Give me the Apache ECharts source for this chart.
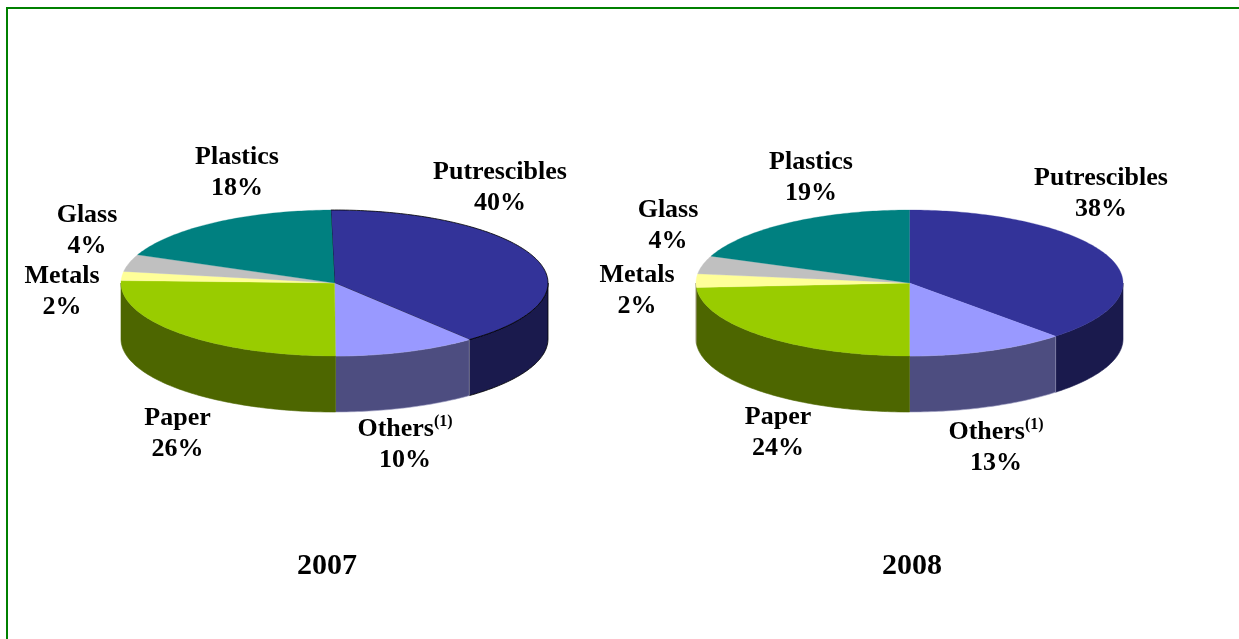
<!DOCTYPE html>
<html>
<head>
<meta charset="utf-8">
<style>html,body{margin:0;padding:0;background:#fff}#c{width:1239px;height:639px}</style>
<script src="https://cdn.jsdelivr.net/npm/echarts@6/dist/echarts.min.js"></script>
</head>
<body>
<div id="c"></div>
<script>
// Printed labels, and slice shares measured from the drawn angles of the picture
// (the printed figures are rounded, so a few slices differ slightly from them).
const categories = ['Putrescibles', 'Others', 'Paper', 'Metals', 'Glass', 'Plastics'];
const years = ['2007', '2008'];
const printed2007 = [40, 10, 26, 2, 4, 18];
const printed2008 = [38, 13, 24, 2, 4, 19];
const shares2007 = [39.4, 10.8, 25.6, 2.0, 3.8, 18.4];
const shares2008 = [38.0, 12.0, 24.0, 3.0, 4.0, 19.0];

const topColors = ['#333399', '#9999ff', '#99cc00', '#ffff99', '#c0c0c0', '#008080'];
const wallColors = ['#1a1a4d', '#4d4d80', '#4d6600', '#80804d', '#606060', '#004040'];

const FONT = '"Liberation Serif", "Times New Roman", serif';

const chart = echarts.init(document.getElementById('c'), null, { renderer: 'canvas' });

function pt(g, deg, dy) {
  const a = deg * Math.PI / 180;
  return [g.cx + g.rx * Math.sin(a), g.cy - g.ry * Math.cos(a) + (dy || 0)];
}
function arc(g, a, b, dy) {
  const out = [], n = Math.max(2, Math.ceil(Math.abs(b - a)));
  for (let i = 0; i <= n; i++) out.push(pt(g, a + (b - a) * i / n, dy));
  return out;
}

function labelRich(name, printed) {
  const sup = name === 'Others' ? '{s|(1)}' : '';
  return '{b|' + name + '}' + sup + '\n{b|' + printed + '%}';
}

function pieSeries(shares, printed, g, labelPos, outlined) {
  const total = shares.reduce((s, v) => s + v, 0);
  return {
    type: 'custom',
    coordinateSystem: 'none',
    silent: true,
    animation: false,
    data: shares.map((v, i) => ({ name: categories[i], value: [v, printed[i]] })),
    renderItem(params, api) {
      const i = params.dataIndex;
      let start = g.start;
      for (let k = 0; k < i; k++) start += shares[k] / total * 360;
      const end = start + api.value(0) / total * 360;
      const children = [];
      const w0 = Math.max(start, 90), w1 = Math.min(end, 270);
      const strokeOn = outlined && i === 0;
      if (w1 > w0) {
        const pts = arc(g, w0, w1, 0).concat(arc(g, w1, w0, g.depth));
        children.push({
          type: 'polygon', z2: 1, shape: { points: pts },
          style: {
            fill: wallColors[i],
            stroke: strokeOn ? '#000' : (i === 1 ? '#9a9ac0' : wallColors[i]),
            lineWidth: strokeOn ? 0.8 : 0.6
          }
        });
      }
      const top = [[g.cx, g.cy]].concat(arc(g, start, end, 0));
      children.push({
        type: 'polygon', z2: 2, shape: { points: top },
        style: {
          fill: topColors[i],
          stroke: strokeOn ? '#000' : topColors[i],
          lineWidth: strokeOn ? 0.8 : 0.3
        }
      });
      children.push({
        type: 'text', z2: 3,
        style: {
          x: labelPos[i][0], y: labelPos[i][1],
          text: labelRich(categories[i], api.value(1)),
          align: 'center', verticalAlign: 'middle',
          rich: {
            b: { font: 'bold 26px ' + FONT, fill: '#000', lineHeight: 31 },
            s: { font: 'bold 16px ' + FONT, fill: '#000', lineHeight: 31, verticalAlign: 'top', padding: [0, 0, 6, 0] }
          }
        }
      });
      return { type: 'group', children };
    }
  };
}

const geo2007 = { cx: 334.5, cy: 283, rx: 213.5, ry: 73, depth: 56, start: -1 };
const geo2008 = { cx: 909.5, cy: 283, rx: 213.5, ry: 73, depth: 56, start: 0 };
const labelPos2007 = [[500, 187.5], [405, 445], [177.5, 434], [62, 292], [87, 231], [237, 172.5]];
const labelPos2008 = [[1101, 194], [996, 448], [778, 433], [637, 291], [668, 226], [811, 178]];

chart.setOption({
  backgroundColor: '#ffffff',
  animation: false,
  title: [
    { text: years[0], left: 322, top: 561, textAlign: 'center', textVerticalAlign: 'middle',
      textStyle: { fontFamily: FONT, fontWeight: 'bold', fontSize: 30, color: '#000' } },
    { text: years[1], left: 907, top: 561, textAlign: 'center', textVerticalAlign: 'middle',
      textStyle: { fontFamily: FONT, fontWeight: 'bold', fontSize: 30, color: '#000' } }
  ],
  graphic: [
    { type: 'polyline', silent: true, shape: { points: [[7, 639], [7, 8], [1239, 8]] },
      style: { stroke: '#008000', lineWidth: 2, fill: null } }
  ],
  series: [
    pieSeries(shares2007, printed2007, geo2007, labelPos2007, true),
    pieSeries(shares2008, printed2008, geo2008, labelPos2008, false)
  ]
});
</script>
</body>
</html>
